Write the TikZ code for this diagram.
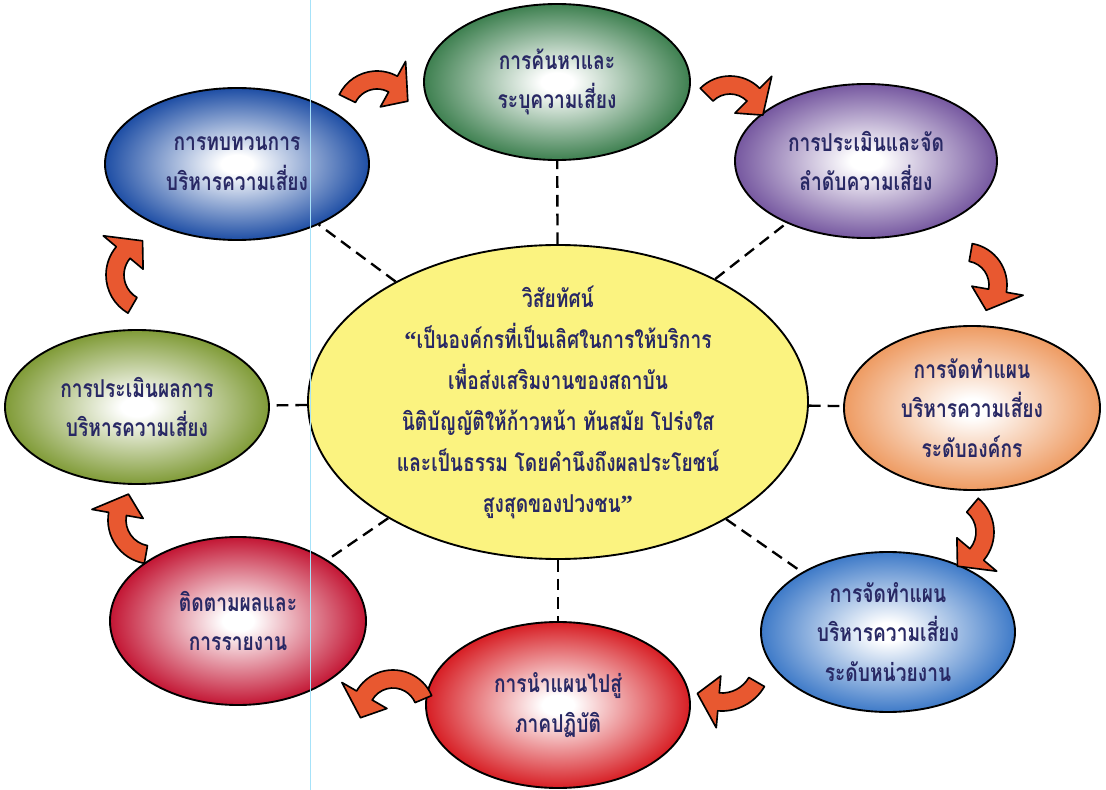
\documentclass[tikz,border=0pt]{standalone}
\usepackage{fontspec}
\newfontfamily\thaifont[Script=Thai,FakeStretch=0.78]{Loma}
\newfontfamily\quotefont{Liberation Serif}
\usetikzlibrary{shapes.geometric}
\definecolor{inkblue}{RGB}{40,40,100}
\definecolor{arrowred}{RGB}{232,88,48}
\definecolor{visionyellow}{RGB}{251,243,128}
\colorlet{glowcol}{white}
\pgfdeclareradialshading[glowcol]{glow}{\pgfpointorigin}{color(0bp)=(white); color(3bp)=(white); color(25bp)=(glowcol); color(50bp)=(glowcol)}
\tikzset{
  zone/.style={ellipse,draw=black,line width=1.6pt,inner sep=-12pt,align=center,text=inkblue,
    font=\thaifont\bfseries\fontsize{21}{34}\selectfont,
    /utils/exec={\colorlet{glowcol}{#1}},shade,shading=glow},
  vision/.style={ellipse,draw=black,line width=1.6pt,inner sep=-30pt,align=center,text=inkblue,
    font=\thaifont\bfseries\fontsize{21}{35}\selectfont,fill=visionyellow},
  link/.style={line width=2pt,dash pattern=on 10pt off 6pt},
  turnarrow/.style={fill=arrowred,draw=black,line width=1.4pt,line join=round}
}
% curved block arrow: centre, radius, from angle, to angle
\newcommand\bendarrow[4]{%
  \filldraw[turnarrow,shift={(#1)}] ({#3}:{#2+9}) arc[start angle={#3},end angle={#4},radius={#2+9}]
    -- ({#4}:{#2+26}) -- ({#4+sign(#4-#3)*1320/#2}:{#2}) -- ({#4}:{#2-26})
    -- ({#4}:{#2-9}) arc[start angle={#4},end angle={#3},radius={#2-9}] -- cycle;}

\begin{document}
\begin{tikzpicture}[x=0.03cm,y=-0.03cm]
\useasboundingbox (0,0) rectangle (1106,790);

\node[vision,minimum width=500*0.03cm,minimum height=314*0.03cm] (vision) at (558,402)
  {วิสัยทัศน์\\{\quotefont “}เป็นองค์กรที่เป็นเลิศในการให้บริการ\\เพื่อส่งเสริมงานของสถาบัน\\นิติบัญญัติให้ก้าวหน้า ทันสมัย โปร่งใส\\และเป็นธรรม โดยคำนึงถึงผลประโยชน์\\สูงสุดของปวงชน{\quotefont ”}};

\node[zone={rgb,255:red,62;green,128;blue,80},minimum width=266*0.03cm,minimum height=156*0.03cm] (find) at (557,82) {การค้นหาและ\\ระบุความเสี่ยง};
\node[zone={rgb,255:red,118;green,88;blue,160},minimum width=262*0.03cm,minimum height=154*0.03cm] (rank) at (866,161) {การประเมินและจัด\\ลำดับความเสี่ยง};
\node[zone={rgb,255:red,238;green,155;blue,98},minimum width=256*0.03cm,minimum height=164*0.03cm] (orgplan) at (972,408) {การจัดทำแผน\\บริหารความเสี่ยง\\ระดับองค์กร};
\node[zone={rgb,255:red,62;green,122;blue,200},minimum width=254*0.03cm,minimum height=160*0.03cm] (unitplan) at (888,632) {การจัดทำแผน\\บริหารความเสี่ยง\\ระดับหน่วยงาน};
\node[zone={rgb,255:red,215;green,30;blue,36},minimum width=264*0.03cm,minimum height=166*0.03cm] (practice) at (558,705) {การนำแผนไปสู่\\ภาคปฏิบัติ};
\node[zone={rgb,255:red,195;green,22;blue,52},minimum width=256*0.03cm,minimum height=168*0.03cm] (monitor) at (238,621) {ติดตามผลและ\\การรายงาน};
\node[zone={rgb,255:red,128;green,155;blue,55},minimum width=264*0.03cm,minimum height=154*0.03cm] (evaluate) at (137,407) {การประเมินผลการ\\บริหารความเสี่ยง};
\node[zone={rgb,255:red,30;green,78;blue,165},minimum width=264*0.03cm,minimum height=152*0.03cm] (review) at (237,164) {การทบทวนการ\\บริหารความเสี่ยง};

\foreach \n in {find,rank,orgplan,unitplan,practice,monitor,evaluate,review}
  \draw[link] (vision) -- (\n);

\bendarrow{377,113}{33}{206}{299}
\bendarrow{730,118}{33}{225}{315}
\bendarrow{965,285}{33}{280}{370}
\bendarrow{950,532}{35}{-50}{40}
\bendarrow{722,662}{40}{30}{95}
\bendarrow{393,712}{33}{337}{210}
\bendarrow{152,520}{35}{100}{190}
\bendarrow{150,275}{35}{120}{220}

\draw[cyan!35,line width=0.5pt] (310,0) -- (310,790);
\end{tikzpicture}
\end{document}
